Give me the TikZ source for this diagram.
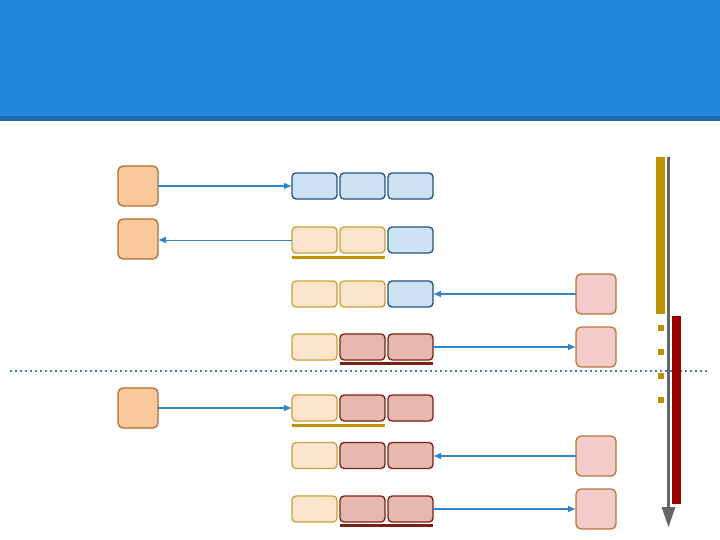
\documentclass[tikz,border=0pt]{standalone}
\usetikzlibrary{arrows.meta}
\definecolor{hdr}{RGB}{34,134,218}
\definecolor{hdrdark}{RGB}{30,104,174}
\definecolor{arr}{RGB}{44,134,206}
\definecolor{orfill}{RGB}{249,200,155}
\definecolor{ordraw}{RGB}{176,110,45}
\definecolor{pkfill}{RGB}{244,204,204}
\definecolor{pkdraw}{RGB}{184,116,55}
\definecolor{blfill}{RGB}{207,226,243}
\definecolor{bldraw}{RGB}{34,78,128}
\definecolor{lofill}{RGB}{252,229,205}
\definecolor{lodraw}{RGB}{201,160,55}
\definecolor{rdfill}{RGB}{230,184,175}
\definecolor{rddraw}{RGB}{120,32,20}
\definecolor{goldbar}{RGB}{191,144,0}
\definecolor{redbar}{RGB}{153,0,0}
\definecolor{grayline}{RGB}{102,102,102}
\definecolor{dotc}{RGB}{70,124,184}
\tikzset{
  sqbox/.style={rounded corners=5pt, line width=1.3pt, minimum width=40pt, minimum height=40pt, inner sep=0pt, outer sep=0pt},
  leftbox/.style={sqbox, draw=ordraw, fill=orfill},
  rightbox/.style={sqbox, draw=pkdraw, fill=pkfill},
  cell/.style={rounded corners=4pt, line width=1.3pt, minimum width=45pt, minimum height=26pt, inner sep=0pt, outer sep=0pt},
  bcell/.style={cell, draw=bldraw, fill=blfill},
  ocell/.style={cell, draw=lodraw, fill=lofill},
  rcell/.style={cell, draw=rddraw, fill=rdfill},
  msg/.style={draw=arr, line width=1.5pt, -{Latex[length=8pt,width=7pt]}},
  msgthin/.style={draw=arr, line width=1pt, -{Latex[length=8pt,width=7pt]}},
  goldul/.style={draw=goldbar, line width=3pt},
  redul/.style={draw=rddraw, line width=3pt},
}
\begin{document}
\begin{tikzpicture}[x=1pt,y=-1pt]
\useasboundingbox (0,0) rectangle (720,540);
\fill[white] (0,0) rectangle (720,540);
% header
\fill[hdr] (0,0) rectangle (720,116);
\fill[hdrdark] (0,116) rectangle (720,121);

% left boxes
\node[leftbox] (L1) at (138,186) {};
\node[leftbox] (L2) at (138,239) {};
\node[leftbox] (L3) at (138,408) {};
% right boxes
\node[rightbox] (P1) at (596,294) {};
\node[rightbox] (P2) at (596,347) {};
\node[rightbox] (P3) at (596,456) {};
\node[rightbox] (P4) at (596,509) {};

% rows
\node[bcell] (r1a) at (314.5,186) {};
\node[bcell] (r1b) at (362.5,186) {};
\node[bcell] (r1c) at (410.5,186) {};

\node[ocell] (r2a) at (314.5,240) {};
\node[ocell] (r2b) at (362.5,240) {};
\node[bcell] (r2c) at (410.5,240) {};

\node[ocell] (r3a) at (314.5,294) {};
\node[ocell] (r3b) at (362.5,294) {};
\node[bcell] (r3c) at (410.5,294) {};

\node[ocell] (r4a) at (314.5,347) {};
\node[rcell] (r4b) at (362.5,347) {};
\node[rcell] (r4c) at (410.5,347) {};

\node[ocell] (r5a) at (314.5,408) {};
\node[rcell] (r5b) at (362.5,408) {};
\node[rcell] (r5c) at (410.5,408) {};

\node[ocell] (r6a) at (314.5,455.5) {};
\node[rcell] (r6b) at (362.5,455.5) {};
\node[rcell] (r6c) at (410.5,455.5) {};

\node[ocell] (r7a) at (314.5,509) {};
\node[rcell] (r7b) at (362.5,509) {};
\node[rcell] (r7c) at (410.5,509) {};

% underlines
\draw[goldul] ([yshift=-4.5pt]r2a.south west) -- ([yshift=-4.5pt]r2b.south east);
\draw[redul] ([yshift=-3.5pt]r4b.south west) -- ([yshift=-3.5pt]r4c.south east);
\draw[goldul] ([yshift=-4pt]r5a.south west) -- ([yshift=-4pt]r5b.south east);
\draw[redul] ([yshift=-3.5pt]r7b.south west) -- ([yshift=-3.5pt]r7c.south east);

% messages
\draw[msg] (L1.east) -- (r1a.west);
\draw[msgthin] (r2a.west) -- (L2.east |- r2a.west);
\draw[msg] (P1.west) -- (r3c.east);
\draw[msg] (r4c.east) -- (P2.west);
\draw[msg] (L3.east) -- (r5a.west);
\draw[msg] (P3.west) -- (r6c.east |- P3.west);
\draw[msg] (r7c.east) -- (P4.west);

% dotted separator
\coordinate (dl) at (10,371);
\coordinate (dr) at (710,371);
\draw[dotc, line width=1.5pt, dash pattern=on 1.5pt off 3.5pt] (dl) -- (dr);

% right timeline
\fill[goldbar] (656,157) rectangle (665,314);
\fill[redbar] (672,316) rectangle (681,504);
\coordinate (ts) at (668.5,157);
\coordinate (te) at (668.5,508);
\draw[grayline, line width=3pt] (ts) -- (te);
\fill[grayline] (661.5,507) -- (675.5,507) -- (668.5,527) -- cycle;
\foreach \yy in {325,349,373,397} {
  \fill[goldbar] (658,\yy) rectangle (664,\yy+6);
}
\end{tikzpicture}
\end{document}
